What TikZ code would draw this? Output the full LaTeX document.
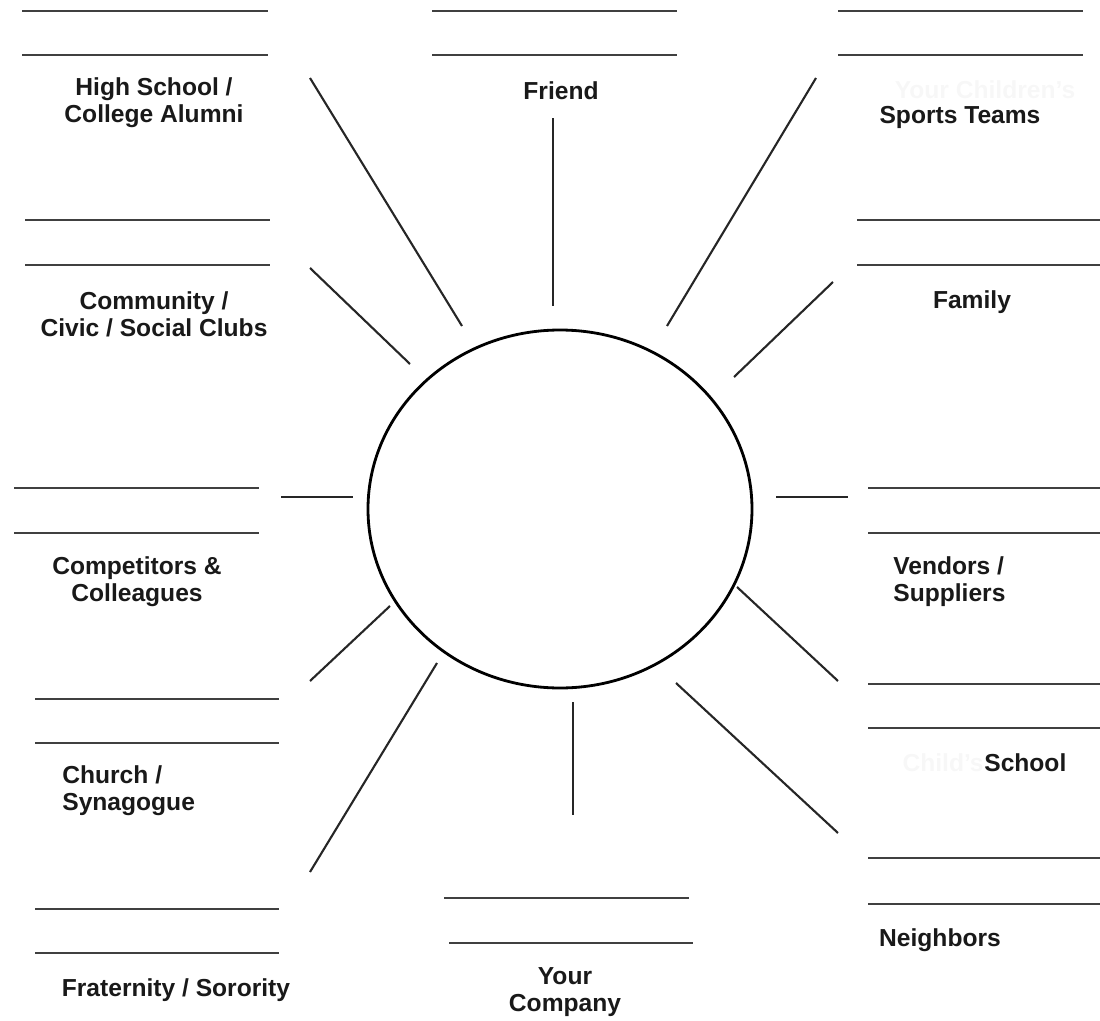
\documentclass[tikz,border=0pt]{standalone}
\usepackage{fontspec}
\setmainfont{Liberation Sans}
\usepackage{tikz}

\begin{document}
\begin{tikzpicture}[x=0.02cm,y=-0.02cm,
		blank/.style={line width=1.3pt, black!75},
		spoke/.style={line width=1.2pt, black!85},
		lbl/.style={font=\fontsize{14}{15.5}\selectfont\bfseries, text=black!90, align=center, inner sep=0pt},
		faint/.style={font=\fontsize{14}{15.5}\selectfont\bfseries, text=black!3, inner sep=0pt}]
			\useasboundingbox (0,0) rectangle (1100,1021);
			% center
			\draw[line width=1.6pt] (560,509) ellipse [x radius=192, y radius=179];
			% top row of blanks
			\draw[blank] (22,11) -- (268,11);
			\draw[blank] (22,55) -- (268,55);
			\draw[blank] (432,11) -- (677,11);
			\draw[blank] (432,55) -- (677,55);
			\draw[blank] (838,11) -- (1083,11);
			\draw[blank] (838,55) -- (1083,55);
			% second row
			\draw[blank] (25,220) -- (270,220);
			\draw[blank] (25,265) -- (270,265);
			\draw[blank] (857,220) -- (1100,220);
			\draw[blank] (857,265) -- (1100,265);
			% middle row
			\draw[blank] (14,488) -- (259,488);
			\draw[blank] (14,533) -- (259,533);
			\draw[blank] (868,488) -- (1100,488);
			\draw[blank] (868,533) -- (1100,533);
			% lower rows
			\draw[blank] (35,699) -- (279,699);
			\draw[blank] (35,743) -- (279,743);
			\draw[blank] (868,684) -- (1100,684);
			\draw[blank] (868,728) -- (1100,728);
			\draw[blank] (35,909) -- (279,909);
			\draw[blank] (35,953) -- (279,953);
			\draw[blank] (868,858) -- (1100,858);
			\draw[blank] (868,904) -- (1100,904);
			\draw[blank] (444,898) -- (689,898);
			\draw[blank] (449,943) -- (693,943);
			% spokes
			\draw[spoke] (310,78) -- (462,326);
			\draw[spoke] (553,118) -- (553,306);
			\draw[spoke] (816,78) -- (667,326);
			\draw[spoke] (310,268) -- (410,364);
			\draw[spoke] (833,282) -- (734,377);
			\draw[spoke] (281,497) -- (353,497);
			\draw[spoke] (776,497) -- (848,497);
			\draw[spoke] (310,681) -- (390,606);
			\draw[spoke] (737,587) -- (838,681);
			\draw[spoke] (310,872) -- (437,663);
			\draw[spoke] (676,683) -- (838,833);
			\draw[spoke] (573,702) -- (573,815);
			% labels
			\draw (154,103) node[lbl] (alumni) {High School /\\College Alumni};
			\draw (561,91) node[lbl] (friend) {Friend};
			\draw (985,90) node[faint] (kids) {Your Children's};
			\draw (960,117) node[lbl] (sports) {Sports Teams};
			\draw (154,314) node[lbl] (clubs) {Community /\\Civic / Social Clubs};
			\draw (972,302) node[lbl] (family) {Family};
			\draw (137,582) node[lbl] (rivals) {Competitors \&\\Colleagues};
			\draw (893,582) node[lbl, anchor=west, align=left] (vendors) {Vendors /\\Suppliers};
			\draw (62,791) node[lbl, anchor=west, align=left] (church) {Church /\\Synagogue};
			\draw (984,763) node[faint, anchor=east] (child) {Child's};
			\draw (984,763) node[lbl, anchor=west] (school) {School};
			\draw (940,940) node[lbl] (neighbors) {Neighbors};
			\draw (176,990) node[lbl] (greek) {Fraternity / Sorority};
			\draw (565,992) node[lbl] (company) {Your\\Company};
		\end{tikzpicture}
\end{document}
